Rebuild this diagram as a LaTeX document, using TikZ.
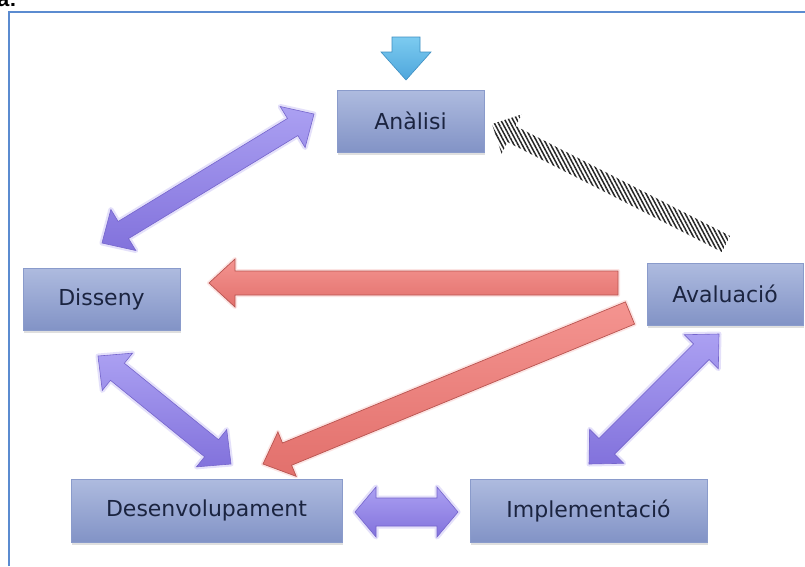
\documentclass[tikz,border=0pt]{standalone}
\usepackage{fontspec}
\setmainfont{DejaVu Sans}
\newfontfamily\cutfont{Liberation Sans}
\usetikzlibrary{calc,shadows,patterns.meta}
\definecolor{frameblue}{HTML}{5B8BD0}
\definecolor{boxtop}{HTML}{AEBBDF}
\definecolor{boxbot}{HTML}{8293C6}
\definecolor{boxedge}{HTML}{8A9BCB}
\definecolor{boxtext}{HTML}{1B2440}
\definecolor{purtop}{HTML}{ABA0F2}
\definecolor{purbot}{HTML}{8272DC}
\definecolor{puredge}{HTML}{7565CC}
\definecolor{purglow}{HTML}{C4BCF6}
\definecolor{redtop}{HTML}{F49490}
\definecolor{redbot}{HTML}{E2706C}
\definecolor{rededge}{HTML}{B85450}
\definecolor{blutop}{HTML}{7CCBF0}
\definecolor{blubot}{HTML}{4EA6DC}
\definecolor{bluedge}{HTML}{3E8FC2}
\newcommand\dblarrow[6]{%
 \coordinate (fa1) at ($(#2)!#6!(#3)$);
 \coordinate (fa2) at ($(#3)!#6!(#2)$);
 \draw[#1] (#2) -- ($(fa1)!#5!90:(#3)$) -- ($(fa1)!#4!90:(#3)$)
   -- ($(fa2)!#4!-90:(#2)$) -- ($(fa2)!#5!-90:(#2)$) -- (#3)
   -- ($(fa2)!#5!90:(#2)$) -- ($(fa2)!#4!90:(#2)$)
   -- ($(fa1)!#4!-90:(#3)$) -- ($(fa1)!#5!-90:(#3)$) -- cycle;}
\newcommand\sglarrow[6]{%
 \coordinate (fa2) at ($(#3)!#6!(#2)$);
 \draw[#1] ($(#2)!#4!90:(#3)$) -- ($(fa2)!#4!-90:(#2)$) -- ($(fa2)!#5!-90:(#2)$)
   -- (#3) -- ($(fa2)!#5!90:(#2)$) -- ($(fa2)!#4!90:(#2)$)
   -- ($(#2)!#4!-90:(#3)$) -- cycle;}
\begin{document}
\begin{tikzpicture}[x=1pt,y=-1pt,
  stage/.style={rectangle, draw=boxedge, line width=0.6pt, top color=boxtop, bottom color=boxbot,
    text=boxtext, font=\fontsize{22}{26}\selectfont, inner sep=0pt,
    drop shadow={shadow xshift=1pt, shadow yshift=-2.5pt, opacity=0.25}},
  purarrow/.style={draw=puredge, line width=0.6pt, top color=purtop, bottom color=purbot,
    preaction={draw=purglow, line width=5pt, opacity=0.45, line join=round}},
  redarrow/.style={draw=rededge, line width=0.7pt, top color=redtop, bottom color=redbot,
    preaction={draw=redtop, line width=4pt, opacity=0.25, line join=round}},
  hatcharrow/.style={draw=none, pattern={Lines[angle=-62, distance=3.6pt, line width=1.5pt]}, pattern color=black!85},
  bluearrow/.style={draw=bluedge, line width=0.6pt, top color=blutop, bottom color=blubot}
]
\useasboundingbox (0,0) rectangle (805,566);
\fill[white] (0,0) rectangle (805,566);
% cut-off caption fragment at the top-left
\begin{scope}
\clip (0,0) rectangle (805,566);
\node[anchor=base east, inner sep=0pt, font=\cutfont\bfseries\fontsize{22}{26}\selectfont] (cut) at (17,6) {ta:};
\end{scope}
% frame
\draw[frameblue, line width=2pt] (9,566) -- (9,12) -- (806,12);

% stages
\node[stage, minimum width=147pt, minimum height=62pt] (an) at (410.5,121) {Anàlisi};
\node[stage, minimum width=157pt, minimum height=62pt] (di) at (101.5,299) {Disseny};
\node[stage, minimum width=156pt, minimum height=62pt] (av) at (725,294) {Avaluació};
\node[stage, minimum width=271pt, minimum height=63pt] (de) at (206.5,510.5) {Desenvolupament};
\node[stage, minimum width=237pt, minimum height=63pt] (im) at (588.5,510.5) {Implementació};

% arrow end points
\coordinate (bT) at (406,37);
\coordinate (bH) at (406,80);
\coordinate (adA) at (314,114);
\coordinate (adD) at (102,243);
\coordinate (rhT) at (618,283);
\coordinate (rhH) at (209,283);
\coordinate (rdT) at (630,313);
\coordinate (rdH) at (263,464);
\coordinate (hT) at (726,244);
\coordinate (hH) at (492,124);
\coordinate (ddA) at (98,356);
\coordinate (ddB) at (231,464);
\coordinate (aiA) at (719,334);
\coordinate (aiB) at (589,464);
\coordinate (diA) at (355,512);
\coordinate (diB) at (458,512);

% arrows
\sglarrow{bluearrow}{bT}{bH}{14pt}{25pt}{28pt}
\dblarrow{purarrow}{adD}{adA}{10pt}{24pt}{25pt}
\sglarrow{redarrow}{rhT}{rhH}{12pt}{24pt}{26pt}
\sglarrow{redarrow}{rdT}{rdH}{12pt}{24pt}{26pt}
\sglarrow{hatcharrow}{hT}{hH}{9pt}{22pt}{22pt}
\dblarrow{purarrow}{ddA}{ddB}{11pt}{24pt}{25pt}
\dblarrow{purarrow}{aiA}{aiB}{11pt}{24pt}{25pt}
\dblarrow{purarrow}{diA}{diB}{14pt}{25pt}{21pt}
\end{tikzpicture}
\end{document}
